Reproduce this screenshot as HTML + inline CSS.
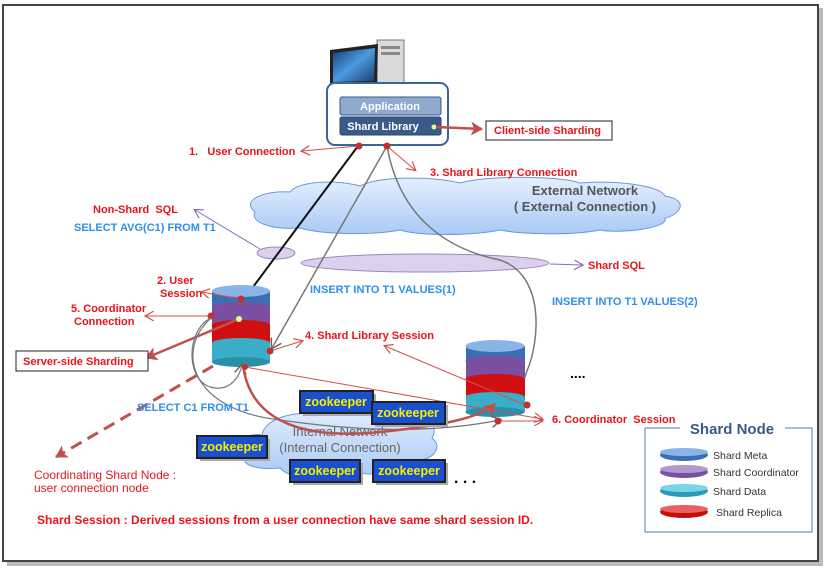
<!DOCTYPE html>
<html><head><meta charset="utf-8"><style>
body{margin:0;background:#fff}
svg{display:block;font-family:"Liberation Sans",sans-serif}
.r{fill:#e8141c;font-weight:bold;font-size:11px}
.b{fill:#2f8fe8;font-weight:bold;font-size:11px}
.z{fill:#f4f000;font-weight:bold;font-size:12.5px}
</style></head><body>
<svg width="839" height="582" viewBox="0 0 839 582">
<defs>
<marker id="ar" markerWidth="10" markerHeight="10" refX="8" refY="5" orient="auto" markerUnits="userSpaceOnUse"><path d="M0,0 L9,5 L0,10" fill="none" stroke="#d05050" stroke-width="1.2"/></marker>
<marker id="ap" markerWidth="10" markerHeight="10" refX="8" refY="5" orient="auto" markerUnits="userSpaceOnUse"><path d="M0,0 L9,5 L0,10" fill="none" stroke="#8a6fb8" stroke-width="1.2"/></marker>
<marker id="ag" markerWidth="12" markerHeight="12" refX="9" refY="6" orient="auto" markerUnits="userSpaceOnUse"><path d="M0,0 L10,6 L0,12" fill="none" stroke="#666" stroke-width="1.5"/></marker>
<marker id="at" markerWidth="14" markerHeight="14" refX="11" refY="7" orient="auto" markerUnits="userSpaceOnUse"><path d="M0,0 L12,7 L0,14 L3,7z" fill="#c0504d"/></marker>
<linearGradient id="cl" x1="0" y1="0" x2="0" y2="1"><stop offset="0" stop-color="#e6f0ff"/><stop offset="1" stop-color="#a9c9f5"/></linearGradient>
<linearGradient id="sc" x1="0" y1="0" x2="1" y2="1"><stop offset="0" stop-color="#1a3c70"/><stop offset="0.5" stop-color="#4a9ae0"/><stop offset="1" stop-color="#1a3c70"/></linearGradient>
</defs>
<rect x="7" y="8" width="816" height="558" fill="#bbb"/>
<rect x="3" y="5" width="815" height="556" fill="#fff" stroke="#444" stroke-width="2"/>

<!-- computer -->
<rect x="377" y="40" width="27" height="55" fill="#d8dadc" stroke="#777"/>
<rect x="381" y="46" width="19" height="3" fill="#888"/><rect x="381" y="52" width="19" height="3" fill="#888"/>
<polygon points="330,50 378,44 377,84 330,85" fill="#222"/>
<polygon points="333,53 375,48 374,81 333,82" fill="url(#sc)"/>
<!-- app box -->
<rect x="327" y="83" width="121" height="62" rx="8" fill="#fff" stroke="#3a6599" stroke-width="2"/>
<rect x="340" y="97" width="101" height="18" rx="2" fill="#8fa9cf" stroke="#3a5a88"/>
<text x="390" y="110" text-anchor="middle" fill="#fff" font-weight="bold" font-size="11">Application</text>
<rect x="340" y="117" width="101" height="18" rx="2" fill="#3a5a88" stroke="#2a4570"/>
<text x="383" y="130" text-anchor="middle" fill="#fff" font-weight="bold" font-size="11">Shard Library</text>
<circle cx="434" cy="127" r="2.5" fill="#dfff90"/>
<line x1="436" y1="127" x2="482" y2="129" stroke="#c0504d" stroke-width="2.5" marker-end="url(#at)"/>
<rect x="486" y="121" width="126" height="19" fill="#fff" stroke="#222"/>
<text x="494" y="134" class="r">Client-side Sharding</text>

<!-- external cloud -->
<path d="M255,212 C240,200 265,190 290,192 C300,180 340,180 360,186 C380,176 430,176 460,183 C490,175 560,176 580,183 C620,180 660,186 665,196 C690,200 680,215 665,218 C670,228 620,234 600,230 C570,236 520,234 500,230 C470,236 420,236 400,230 C370,236 320,234 300,228 C270,230 250,222 255,212z" fill="url(#cl)" stroke="#6a9ad8"/>
<text x="585" y="195" text-anchor="middle" fill="#555" font-size="13" font-weight="bold">External Network</text>
<text x="585" y="211" text-anchor="middle" fill="#555" font-size="13" font-weight="bold">( External Connection )</text>

<ellipse cx="276" cy="253" rx="19" ry="6" fill="#dcd0ec" stroke="#9a88c0"/>
<ellipse cx="425" cy="263" rx="124" ry="9" fill="#dcd0ec" stroke="#9a88c0"/>
<line x1="260" y1="249" x2="195" y2="210" stroke="#8a6fb8" marker-end="url(#ap)"/>
<line x1="550" y1="264" x2="582" y2="265" stroke="#8a6fb8" marker-end="url(#ap)"/>

<!-- lines from app -->
<line x1="358" y1="146" x2="253" y2="287" stroke="#111" stroke-width="2"/>
<line x1="387" y1="146" x2="272" y2="348" stroke="#777" stroke-width="1.5" marker-end="url(#ag)"/>
<path d="M387,146 C400,220 450,250 500,260 C545,275 540,340 527,371 L515,405" fill="none" stroke="#777" stroke-width="1.5" marker-end="url(#ag)"/>
<line x1="359" y1="146" x2="302" y2="151" stroke="#d05050" marker-end="url(#ar)"/>
<line x1="387" y1="146" x2="415" y2="170" stroke="#d05050" marker-end="url(#ar)"/>
<circle cx="359" cy="146" r="3.5" fill="#c03030"/><circle cx="387" cy="146" r="3.5" fill="#c03030"/>

<!-- internal cloud -->
<path d="M245,455 C232,445 245,432 262,435 C265,418 295,410 320,415 C340,400 385,402 400,412 C425,410 440,425 432,438 C445,448 430,462 415,460 C405,475 370,478 350,470 C330,482 290,480 280,468 C255,470 240,465 245,455z" fill="url(#cl)" stroke="#6a9ad8"/>
<text x="340" y="436" text-anchor="middle" fill="#666" font-size="13">Internal Network</text>
<text x="340" y="452" text-anchor="middle" fill="#666" font-size="13">(Internal Connection)</text>

<!-- DB1 -->
<g>
<rect x="212" y="342" width="58" height="20" fill="#3aaec8"/><ellipse cx="241" cy="362" rx="29" ry="5" fill="#2a90aa"/>
<rect x="212" y="324" width="58" height="19" fill="#d01010"/><ellipse cx="241" cy="343" rx="29" ry="5" fill="#3aaec8"/>
<rect x="212" y="306" width="58" height="19" fill="#7a4fa0"/><ellipse cx="241" cy="325" rx="29" ry="5" fill="#d01010"/>
<rect x="212" y="291" width="58" height="16" fill="#3a6fb8"/><ellipse cx="241" cy="307" rx="29" ry="5" fill="#7a4fa0"/>
<ellipse cx="241" cy="291" rx="29" ry="6" fill="#8ab4e8"/>
</g>
<!-- DB2 -->
<g>
<rect x="466" y="396" width="59" height="16" fill="#3aaec8"/><ellipse cx="495" cy="412" rx="29.5" ry="5" fill="#2a90aa"/>
<rect x="466" y="378" width="59" height="19" fill="#d01010"/><ellipse cx="495" cy="397" rx="29.5" ry="5" fill="#3aaec8"/>
<rect x="466" y="360" width="59" height="19" fill="#7a4fa0"/><ellipse cx="495" cy="379" rx="29.5" ry="5" fill="#d01010"/>
<rect x="466" y="346" width="59" height="15" fill="#3a6fb8"/><ellipse cx="495" cy="361" rx="29.5" ry="5" fill="#7a4fa0"/>
<ellipse cx="495" cy="346" rx="29.5" ry="6" fill="#8ab4e8"/>
</g>

<!-- DB1 annotations -->
<line x1="241" y1="299" x2="202" y2="292" stroke="#d05050" marker-end="url(#ar)"/><circle cx="241" cy="299" r="3.5" fill="#c03030"/>
<line x1="211" y1="316" x2="146" y2="316" stroke="#d05050" marker-end="url(#ar)"/><circle cx="211" cy="316" r="3.5" fill="#c03030"/>
<line x1="239" y1="319" x2="146" y2="358" stroke="#c0504d" stroke-width="2.5" marker-end="url(#at)"/><circle cx="239" cy="319" r="3" fill="#dfff90"/>
<line x1="270" y1="351" x2="302" y2="341" stroke="#d05050" marker-end="url(#ar)"/><circle cx="270" cy="351" r="3.5" fill="#c03030"/>
<line x1="213" y1="366" x2="56" y2="457" stroke="#c0504d" stroke-width="3" stroke-dasharray="12,7" marker-end="url(#at)"/>
<path d="M211,318 C185,330 185,385 215,388 C232,390 240,375 242,365" fill="none" stroke="#777" stroke-width="1.2" marker-end="url(#ag)"/>
<path d="M211,318 C175,350 190,410 280,420 C370,433 440,432 500,420" fill="none" stroke="#777" stroke-width="1.2" marker-end="url(#ag)"/>
<path d="M243,365 C250,420 300,440 380,432 C440,426 480,418 495,404" fill="none" stroke="#c0504d" stroke-width="2.5" marker-end="url(#at)"/>
<line x1="245" y1="367" x2="542" y2="419" stroke="#d05050" marker-end="url(#ar)"/><circle cx="245" cy="367" r="3" fill="#c03030"/>
<line x1="525" y1="405" x2="385" y2="346" stroke="#d05050" marker-end="url(#ar)"/>
<line x1="498" y1="421" x2="542" y2="421" stroke="#d05050" marker-end="url(#ar)"/>
<circle cx="498" cy="421" r="3.5" fill="#c03030"/><circle cx="527" cy="405" r="3.5" fill="#c03030"/>

<!-- zookeepers -->
<g>
<rect x="303" y="394" width="73" height="22" fill="#aaa"/><rect x="300" y="391" width="73" height="22" fill="#1a4fd0" stroke="#222" stroke-width="2"/><text x="336" y="406" text-anchor="middle" class="z">zookeeper</text>
<rect x="375" y="405" width="73" height="22" fill="#aaa"/><rect x="372" y="402" width="73" height="22" fill="#1a4fd0" stroke="#222" stroke-width="2"/><text x="408" y="417" text-anchor="middle" class="z">zookeeper</text>
<rect x="200" y="439" width="70" height="22" fill="#aaa"/><rect x="197" y="436" width="70" height="22" fill="#1a4fd0" stroke="#222" stroke-width="2"/><text x="232" y="451" text-anchor="middle" class="z">zookeeper</text>
<rect x="293" y="463" width="70" height="22" fill="#aaa"/><rect x="290" y="460" width="70" height="22" fill="#1a4fd0" stroke="#222" stroke-width="2"/><text x="325" y="475" text-anchor="middle" class="z">zookeeper</text>
<rect x="376" y="463" width="72" height="22" fill="#aaa"/><rect x="373" y="460" width="72" height="22" fill="#1a4fd0" stroke="#222" stroke-width="2"/><text x="409" y="475" text-anchor="middle" class="z">zookeeper</text>
</g>
<text x="454" y="483" font-size="16" font-weight="bold">. . .</text>
<text x="570" y="378" font-size="14" font-weight="bold">....</text>

<!-- labels -->
<text x="189" y="155" class="r">1.&#160;&#160;&#160;User Connection</text>
<text x="430" y="176" class="r">3. Shard Library Connection</text>
<text x="93" y="213" class="r">Non-Shard&#160; SQL</text>
<text x="74" y="231" class="b">SELECT AVG(C1) FROM T1</text>
<text x="588" y="269" class="r">Shard SQL</text>
<text x="157" y="284" class="r">2. User</text>
<text x="160" y="297" class="r">Session</text>
<text x="71" y="312" class="r">5. Coordinator</text>
<text x="74" y="325" class="r">Connection</text>
<text x="310" y="293" class="b">INSERT INTO T1 VALUES(1)</text>
<text x="552" y="305" class="b">INSERT INTO T1 VALUES(2)</text>
<text x="305" y="339" class="r">4. Shard Library Session</text>
<rect x="16" y="351" width="132" height="20" fill="#fff" stroke="#222"/>
<text x="23" y="365" class="r">Server-side Sharding</text>
<text x="137" y="411" class="b">SELECT C1 FROM T1</text>
<text x="552" y="423" class="r">6. Coordinator&#160; Session</text>
<text x="34" y="479" fill="#e8141c" font-size="12">Coordinating Shard Node :</text>
<text x="34" y="492" fill="#e8141c" font-size="12">user connection node</text>
<text x="37" y="524" fill="#e8141c" font-size="12" font-weight="bold">Shard Session : Derived sessions from a user connection have same shard session ID.</text>

<!-- legend -->
<rect x="645" y="428" width="167" height="104" fill="#fff" stroke="#5a7aa8"/>
<rect x="680" y="418" width="105" height="20" fill="#fff"/>
<text x="732" y="434" text-anchor="middle" fill="#3a5a88" font-weight="bold" font-size="15">Shard Node</text>
<g font-size="10.5" fill="#333">
<ellipse cx="684" cy="455" rx="24" ry="6" fill="#3a6fb8"/><ellipse cx="684" cy="452" rx="24" ry="4" fill="#8ab4e8"/><text x="713" y="459">Shard Meta</text>
<ellipse cx="684" cy="472" rx="24" ry="6" fill="#7a4fa0"/><ellipse cx="684" cy="469" rx="24" ry="4" fill="#b09ad0"/><text x="713" y="476">Shard Coordinator</text>
<ellipse cx="684" cy="491" rx="24" ry="6" fill="#2a9ab8"/><ellipse cx="684" cy="488" rx="24" ry="4" fill="#7ad4ea"/><text x="713" y="495">Shard Data</text>
<ellipse cx="684" cy="512" rx="24" ry="6" fill="#c80c0c"/><ellipse cx="684" cy="509" rx="24" ry="4" fill="#e86060"/><text x="716" y="516">Shard Replica</text>
</g>
</svg>
</body></html>
